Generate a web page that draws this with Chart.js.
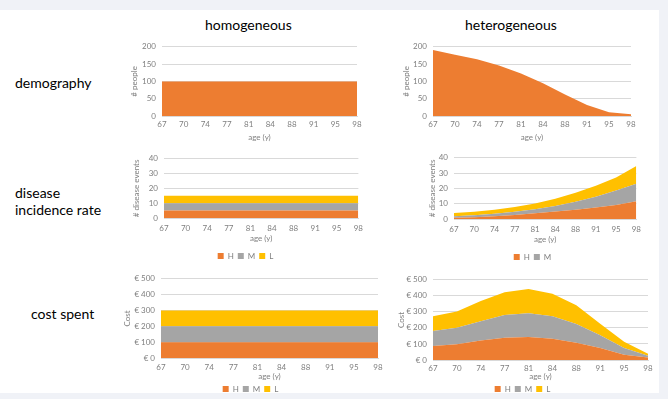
<!DOCTYPE html>
<html>
<head>
<meta charset="utf-8">
<script src="https://cdn.jsdelivr.net/npm/chart.js@4"></script>
<style>
  body { margin: 0; background: #f0f2f7; width: 668px; height: 399px; overflow: hidden; font-family: Lato, sans-serif; }
  #panel { position: absolute; left: 0; top: 10px; width: 659px; height: 383px; background: #fff; }
  .lbl { position: absolute; font-size: 14px; color: #000; line-height: 17px; white-space: nowrap; }
  canvas { position: absolute; }
</style>
</head>
<body>
<div id="panel"></div>
<div class="lbl" style="left:205px;top:16px">homogeneous</div>
<div class="lbl" style="left:465px;top:16px">heterogeneous</div>
<div class="lbl" style="left:15px;top:74px">demography</div>
<div class="lbl" style="left:15px;top:184px">disease<br>incidence rate</div>
<div class="lbl" style="left:31px;top:305px">cost spent</div>

<canvas id="c1"></canvas>
<canvas id="c2"></canvas>
<canvas id="c3"></canvas>
<canvas id="c4"></canvas>
<canvas id="c5"></canvas>
<canvas id="c6"></canvas>

<script>
// age categories (x axis)
const ages = ['67','70','74','77','81','84','88','91','95','98'];

// demography (# people)
const demHom = [100,100,100,100,100,100,100,100,100,100];
const demHet = [191,177,164,146,123,95,62,32,11,5];

// disease events, stacked H / M / L
const disHomH = [5,5,5,5,5,5,5,5,5,5];
const disHomM = [5,5,5,5,5,5,5,5,5,5];
const disHomL = [5,5,5,5,5,5,5,5,5,5];
const disHetH = [0.8,1.2,1.8,2.6,3.7,4.9,6.1,7.5,9.1,11.6];
const disHetM = [1.0,1.2,1.7,2.1,2.6,3.6,5.1,7.1,9.6,11.5];
const disHetL = [2.1,2.3,2.6,3.2,3.9,4.7,5.9,7.1,8.5,11.6];

// cost spent, stacked H / M / L
const costHomH = [100,100,100,100,100,100,100,100,100,100];
const costHomM = [100,100,100,100,100,100,100,100,100,100];
const costHomL = [100,100,100,100,100,100,100,100,100,100];
const costHetH = [87,98,122,138,144,132,108,75,33,16];
const costHetM = [94,103,120,143,147,140,116,79,42,10];
const costHetL = [91,102,126,142,152,141,117,72,39,13];

const ORANGE = '#ED7D31', GREY = '#A5A5A5', YELLOW = '#FFC000';
const tickCol = '#7f7f7f';
const smallFont = { family: 'Lato, sans-serif', size: 8 };

function place(id, left, top, w, h) {
  const c = document.getElementById(id);
  c.style.left = left + 'px';
  c.style.top = top + 'px';
  c.width = w; c.height = h;
  c.style.width = w + 'px'; c.style.height = h + 'px';
  return c;
}

function area(label, data, color, first) {
  return {
    label, data,
    backgroundColor: color, borderColor: color,
    borderWidth: 0, pointRadius: 0, tension: 0,
    fill: first ? 'origin' : '-1'
  };
}

function makeChart(cv, datasets, opts) {
  return new Chart(cv, {
    type: 'line',
    data: { labels: ages, datasets },
    options: {
      responsive: false,
      animation: false,
      layout: { padding: { top: 6, right: 10, left: 0, bottom: 0 } },
      plugins: {
        legend: {
          display: !!opts.legend,
          position: 'bottom',
          labels: {
            boxWidth: 6, boxHeight: 6, padding: 4, color: tickCol, font: smallFont,
            filter: item => !opts.legendKeep || opts.legendKeep.includes(item.text)
          }
        },
        tooltip: { enabled: false }
      },
      scales: {
        x: {
          grid: { display: false, drawTicks: false },
          border: { color: '#d9d9d9' },
          ticks: { color: tickCol, font: smallFont, padding: opts.tickPad || 4, maxRotation: 0, autoSkip: false },
          title: { display: true, text: 'age (y)', color: tickCol, font: smallFont,
                   padding: { top: 0, bottom: opts.titlePad || 0 } },
          afterFit: s => { s.height = opts.xH; }
        },
        y: {
          stacked: true,
          min: 0, max: opts.max,
          grid: { color: '#d9d9d9', drawTicks: false },
          border: { display: false },
          ticks: {
            stepSize: opts.step, color: tickCol, font: smallFont, padding: 6,
            callback: v => (opts.prefix || '') + v
          },
          title: { display: true, text: opts.yTitle, color: tickCol, font: smallFont, padding: 0 },
          afterFit: s => { s.width = opts.yW; }
        }
      }
    }
  });
}

// demography
makeChart(place('c1', 130, 36, 237, 106), [area('people', demHom, ORANGE, true)],
  { max: 200, step: 50, yTitle: '# people', yW: 32, xH: 26 });
makeChart(place('c2', 402, 36, 239, 106), [area('people', demHet, ORANGE, true)],
  { max: 200, step: 50, yTitle: '# people', yW: 31, xH: 26 });

// disease incidence
makeChart(place('c3', 132, 148, 237, 122), [
  area('H', disHomH, ORANGE, true), area('M', disHomM, GREY), area('L', disHomL, YELLOW)
], { max: 40, step: 10, yTitle: '# disease events', yW: 32, xH: 30, titlePad: 5, tickPad: 6, legend: true });
makeChart(place('c4', 428, 147, 219, 124), [
  area('H', disHetH, ORANGE, true), area('M', disHetM, GREY), area('L', disHetL, YELLOW)
], { max: 40, step: 10, yTitle: '# disease events', yW: 26, xH: 30, titlePad: 5, tickPad: 6, legend: true, legendKeep: ['H', 'M'] });

// cost spent
makeChart(place('c5', 123, 268, 265, 135), [
  area('H', costHomH, ORANGE, true), area('M', costHomM, GREY), area('L', costHomL, YELLOW)
], { max: 500, step: 100, prefix: '€ ', yTitle: 'Cost', yW: 38, xH: 23, tickPad: 5, legend: true });
makeChart(place('c6', 397, 269, 261, 134), [
  area('H', costHetH, ORANGE, true), area('M', costHetM, GREY), area('L', costHetL, YELLOW)
], { max: 500, step: 100, prefix: '€ ', yTitle: 'Cost', yW: 36, xH: 21, legend: true });
</script>
</body>
</html>
